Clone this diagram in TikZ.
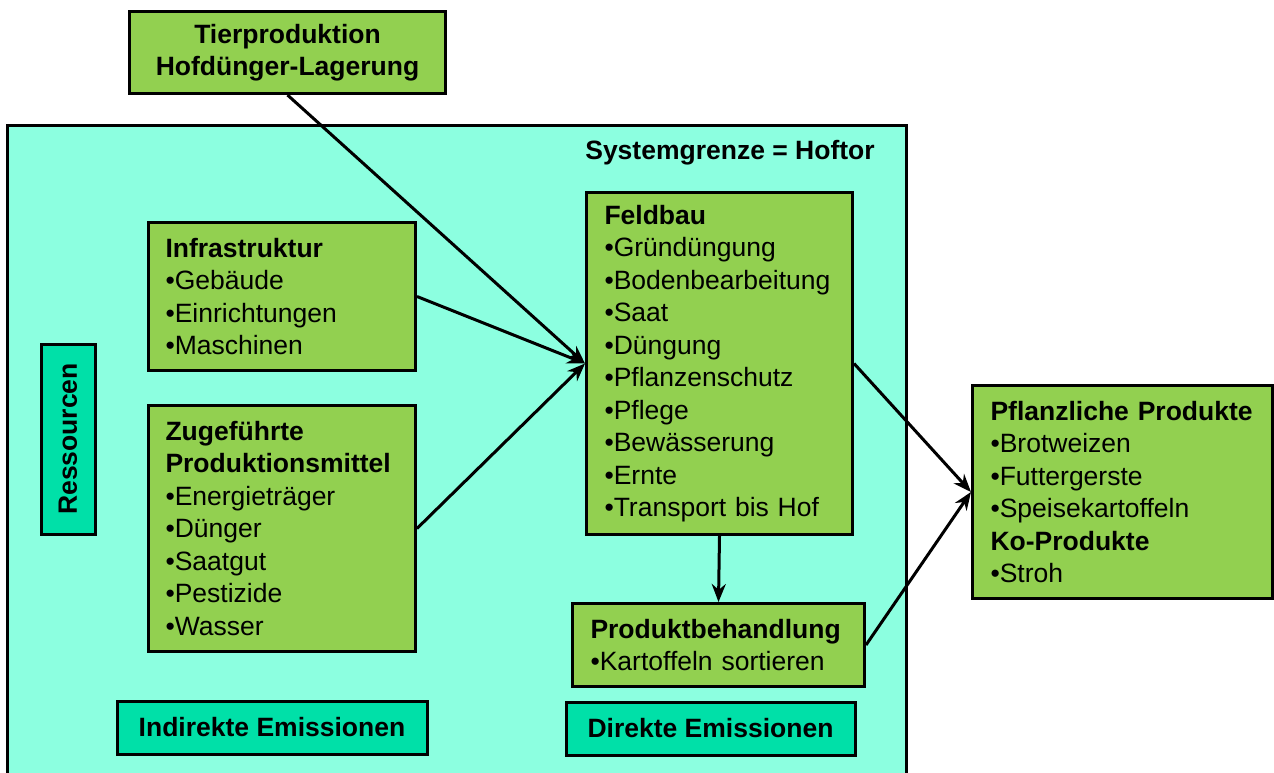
\documentclass[tikz,border=0pt]{standalone}
\usepackage{fontspec}
\setmainfont{Liberation Sans}
\usetikzlibrary{arrows.meta}
\definecolor{aquabg}{HTML}{8CFFE0}
\definecolor{lgreen}{HTML}{92D050}
\definecolor{tealbox}{HTML}{00E0A8}
\begin{document}
\begin{tikzpicture}[x=1pt,y=-1pt,
  gbox/.style={draw, line width=3pt, fill=lgreen, align=left, inner xsep=17pt, inner ysep=0pt,
    anchor=north west, font=\fontsize{26.5}{32.5}\selectfont},
  tbox/.style={draw, line width=3pt, fill=tealbox, align=center, inner sep=0pt,
    font=\fontsize{26.5}{32.5}\selectfont\bfseries},
  arr/.style={line width=3pt, -{Stealth[length=18pt,width=14pt]}}]
\useasboundingbox (0,0) rectangle (1274,773);
\clip (0,0) rectangle (1274,773);
% system boundary
\draw[fill=aquabg, line width=3pt] (7,126) rectangle (906,800);
\node[font=\fontsize{26.5}{32.5}\selectfont\bfseries] (sys) at (730,153) {Systemgrenze = Hoftor};
% boxes
\node[gbox, align=center, text width=282pt, minimum height=82pt] (tier) at (128,10)
  {\bfseries Tierproduktion\\\bfseries Hofdünger-Lagerung};
\node[gbox, text width=233pt, minimum height=148pt] (infra) at (147,221)
  {\textbf{Infrastruktur}\\•Gebäude\\•Einrichtungen\\•Maschinen};
\node[gbox, text width=233pt, minimum height=246pt] (zug) at (147,404)
  {\textbf{Zugeführte}\\\textbf{Produktionsmittel}\\•Energieträger\\•Dünger\\•Saatgut\\•Pestizide\\•Wasser};
\node[gbox, inner xsep=18pt, text width=230pt, minimum height=342pt] (feld) at (585,191)
  {\textbf{Feldbau}\\•Gründüngung\\•Bodenbearbeitung\\•Saat\\•Düngung\\•Pflanzenschutz\\•Pflege\\•Bewässerung\\•Ernte\\•Transport bis Hof};
\node[gbox, inner xsep=18pt, text width=256pt, minimum height=83pt] (prod) at (571,602)
  {\textbf{Produktbehandlung}\\•Kartoffeln sortieren};
\node[gbox, inner xsep=18pt, text width=264pt, minimum height=213pt] (pfl) at (971,384)
  {\textbf{Pflanzliche Produkte}\\•Brotweizen\\•Futtergerste\\•Speisekartoffeln\\\textbf{Ko-Produkte}\\•Stroh};
\node[tbox, rotate=90, minimum width=190pt, minimum height=54pt] (res) at (68,439) {Ressourcen};
\node[tbox, minimum width=310pt, minimum height=53pt] (ind) at (272,727.5) {Indirekte Emissionen};
\node[tbox, minimum width=289pt, minimum height=53pt] (dir) at (710.5,728.5) {Direkte Emissionen};
% connectors
\draw[arr] (tier.south) -- (feld.west);
\draw[arr] (infra.east) -- (feld.west);
\draw[arr] (zug.east) -- (feld.west);
\draw[arr] (feld.south) -- (prod.north);
\draw[arr] (feld.east) -- (pfl.west);
\draw[arr] (prod.east) -- (pfl.west);
\end{tikzpicture}
\end{document}
